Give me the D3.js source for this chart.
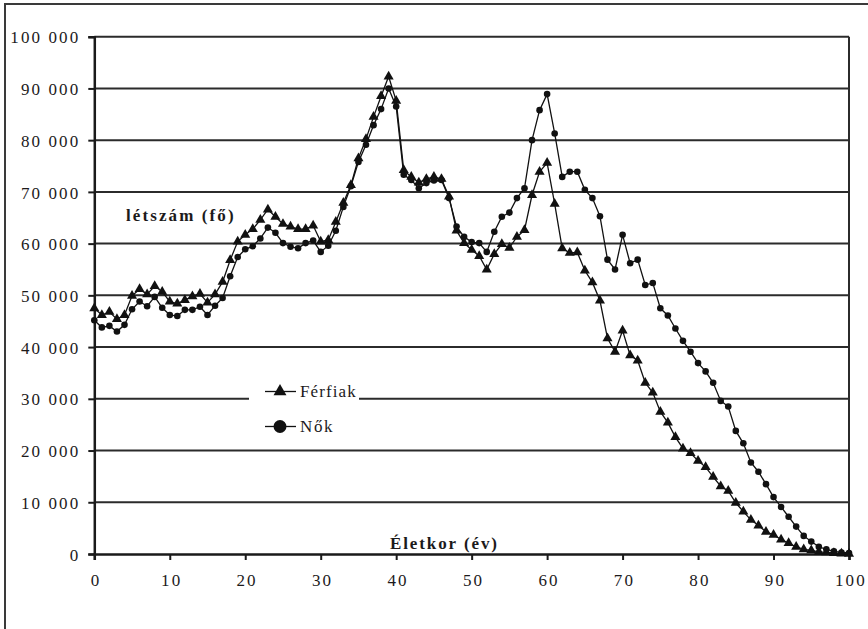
<!DOCTYPE html>
<html>
<head>
<meta charset="utf-8">
<script src="https://cdn.jsdelivr.net/npm/d3@7"></script>
<style>
  body { margin: 0; background: #fff; }
  svg text { fill: #1c1a1b; }
</style>
</head>
<body>
<script>
// age 0..100 (év)
const ages = d3.range(0, 101);

// Férfiak, thousand persons
const men = [
  47.5, 46.2, 46.8, 45.4, 46.2, 49.9, 51.2, 50.2, 51.8, 50.7,
  48.8, 48.4, 49.1, 49.8, 50.3, 48.6, 50.2, 52.6, 56.8, 60.4,
  61.7, 62.8, 64.6, 66.6, 65.2, 63.8, 63.3, 62.8, 62.8, 63.5,
  60.4, 60.7, 64.2, 67.9, 71.3, 76.5, 80.2, 84.5, 88.5, 92.3,
  87.6, 74.2, 72.9, 71.8, 72.5, 72.9, 72.5, 69.1, 62.5, 60.1,
  58.8, 57.6, 55.0, 58.0, 59.9, 59.2, 61.3, 62.6, 69.4, 73.9,
  75.6, 67.7, 59.1, 58.2, 58.3, 54.8, 52.5, 49.0, 41.7, 39.1,
  43.2, 38.4, 37.4, 33.1, 31.2, 27.5, 25.4, 22.6, 20.4, 19.5,
  18.0, 16.8, 14.9, 13.1, 12.2, 9.9, 8.2, 6.6, 5.5, 4.3,
  3.7, 2.8, 2.1, 1.4, 0.9, 0.7, 0.4, 0.3, 0.2, 0.1,
  0.05
];

// Nők, thousand persons
const women = [
  45.2, 43.8, 44.1, 43.0, 44.3, 47.3, 48.8, 47.9, 49.7, 47.6,
  46.2, 46.0, 47.2, 47.2, 47.8, 46.2, 48.0, 49.5, 53.7, 57.4,
  58.9, 59.5, 61.0, 63.1, 62.1, 60.1, 59.4, 59.1, 60.1, 60.6,
  58.4, 59.6, 62.5, 67.1, 71.1, 75.8, 79.1, 82.9, 86.0, 90.0,
  86.5, 73.3, 72.3, 70.7, 71.7, 72.2, 72.3, 68.8, 63.3, 61.3,
  60.3, 60.1, 58.4, 62.3, 65.2, 66.0, 68.8, 70.7, 80.0, 85.8,
  88.9, 81.3, 72.9, 73.9, 73.9, 70.4, 68.8, 65.3, 56.9, 55.0,
  61.7, 56.2, 56.9, 52.0, 52.4, 47.5, 46.1, 43.6, 41.2, 39.1,
  36.9, 35.3, 33.1, 29.6, 28.5, 23.8, 21.4, 17.7, 15.9, 13.5,
  11.0, 9.1, 7.2, 5.3, 3.5, 2.4, 1.4, 0.9, 0.5, 0.3,
  0.2
];

const yTicks = d3.range(0, 100001, 10000);
const xTicks = d3.range(0, 101, 10);
const seriesNames = ["Férfiak", "Nők"];

const serif = "'Liberation Serif', 'Times New Roman', 'DejaVu Serif', serif";

const W = 868, H = 629;
const svg = d3.select("body").append("svg")
  .attr("width", W)
  .attr("height", H)
  .attr("font-family", serif);

// outer frame (runs off the right and bottom edge)
svg.append("rect")
  .attr("x", 5).attr("y", 4)
  .attr("width", 900).attr("height", 700)
  .attr("fill", "none")
  .attr("stroke", "#3a3a3a")
  .attr("stroke-width", 2);

const x = d3.scaleLinear().domain([0, 100]).range([94.3, 849]);
const y = d3.scaleLinear().domain([0, 100000]).range([554, 36.7]);

const fmt = v => d3.format(",")(v).replace(/,/g, " ");

// gridlines
svg.append("g")
  .selectAll("line")
  .data(yTicks.filter(d => d > 0))
  .enter().append("line")
  .attr("x1", x(0)).attr("x2", x(100))
  .attr("y1", d => y(d)).attr("y2", d => y(d))
  .attr("stroke", "#2b2b2b")
  .attr("stroke-width", 2);

// right border of plot
svg.append("line")
  .attr("x1", x(100)).attr("x2", x(100))
  .attr("y1", y(100000)).attr("y2", y(0))
  .attr("stroke", "#2b2b2b")
  .attr("stroke-width", 2);

// y axis
const yAxis = svg.append("g")
  .attr("transform", `translate(${x(0)},0)`)
  .call(d3.axisLeft(y).tickValues(yTicks).tickFormat(fmt).tickSize(6).tickPadding(8));
yAxis.attr("font-family", serif);
yAxis.select(".domain").attr("stroke", "#1a1a1a").attr("stroke-width", 2.5);
yAxis.selectAll(".tick line").attr("stroke", "#1a1a1a").attr("stroke-width", 2);
yAxis.selectAll(".tick text")
  .attr("font-size", 17)
  .attr("letter-spacing", 2.1)
  .attr("dy", "0.36em");

// x axis
const xAxis = svg.append("g")
  .attr("transform", `translate(0,${y(0)})`)
  .call(d3.axisBottom(x).tickValues(xTicks).tickSize(6).tickPadding(14));
xAxis.attr("font-family", serif);
xAxis.select(".domain").attr("stroke", "#1a1a1a").attr("stroke-width", 2.5);
xAxis.selectAll(".tick line").attr("stroke", "#1a1a1a").attr("stroke-width", 2);
xAxis.selectAll(".tick text")
  .attr("font-size", 17)
  .attr("letter-spacing", 2.1)
  .attr("dx", "0.08em");

// series
const triangle = d3.symbol().type(d3.symbolTriangle).size(44);
const line = d3.line()
  .x((d, i) => x(ages[i]))
  .y(d => y(d * 1000));

function drawSeries(values, marker) {
  const g = svg.append("g");
  g.append("path")
    .datum(values)
    .attr("d", line)
    .attr("fill", "none")
    .attr("stroke", "#111")
    .attr("stroke-width", 1.3);
  if (marker === "triangle") {
    g.selectAll("path.m")
      .data(values)
      .enter().append("path")
      .attr("class", "m")
      .attr("d", triangle)
      .attr("transform", (d, i) => `translate(${x(ages[i])},${y(d * 1000)})`)
      .attr("fill", "#111");
  } else {
    g.selectAll("circle")
      .data(values)
      .enter().append("circle")
      .attr("cx", (d, i) => x(ages[i]))
      .attr("cy", d => y(d * 1000))
      .attr("r", 3.3)
      .attr("fill", "#111");
  }
}
drawSeries(men, "triangle");
drawSeries(women, "circle");

// legend
const legend = svg.append("g");
legend.append("rect")
  .attr("x", 249).attr("y", 374)
  .attr("width", 110).attr("height", 68)
  .attr("fill", "#fff");
[0, 1].forEach(i => {
  const ly = 391.5 + i * 35;
  legend.append("line")
    .attr("x1", 265).attr("x2", 296)
    .attr("y1", ly).attr("y2", ly)
    .attr("stroke", "#111").attr("stroke-width", 1.3);
  if (i === 0) {
    legend.append("path")
      .attr("d", d3.symbol().type(d3.symbolTriangle).size(72)())
      .attr("transform", `translate(280,${ly})`)
      .attr("fill", "#111");
  } else {
    legend.append("circle")
      .attr("cx", 280).attr("cy", ly).attr("r", 6.5)
      .attr("fill", "#111");
  }
  legend.append("text")
    .attr("x", 300).attr("y", ly + 5.5)
    .attr("font-size", 17)
    .attr("letter-spacing", i === 0 ? 1.1 : 1.6)
    .text(seriesNames[i]);
});

// axis titles
svg.append("text")
  .attr("x", 126).attr("y", 220.5)
  .attr("font-size", 17)
  .attr("font-weight", "bold")
  .attr("letter-spacing", 2.1)
  .text("létszám (fő)");

svg.append("text")
  .attr("x", 390).attr("y", 549)
  .attr("font-size", 17)
  .attr("font-weight", "bold")
  .attr("letter-spacing", 1.9)
  .text("Életkor (év)");
</script>
</body>
</html>
